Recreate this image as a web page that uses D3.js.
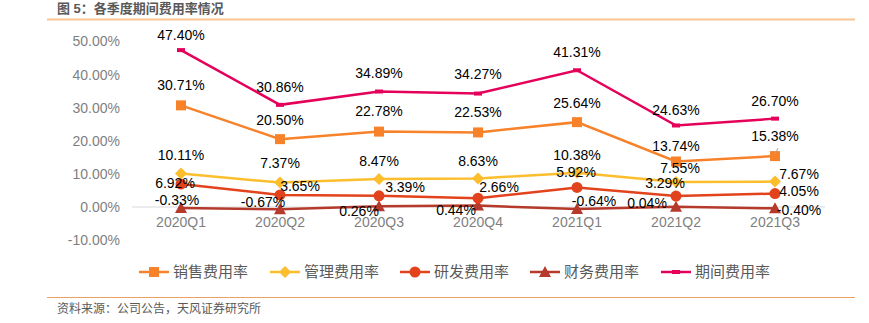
<!DOCTYPE html>
<html><head><meta charset="utf-8">
<script src="https://cdn.jsdelivr.net/npm/d3@7/dist/d3.min.js"></script>
<style>
body{margin:0;background:#fff;}
svg{display:block;font-family:"Liberation Sans","Noto Sans CJK SC",sans-serif;}
</style></head><body>
<svg id="c" width="869" height="323"></svg>
<script>
const categories = ["2020Q1","2020Q2","2020Q3","2020Q4","2021Q1","2021Q2","2021Q3"];
const sales   = [30.71, 20.50, 22.78, 22.53, 25.64, 13.74, 15.38];
const admin   = [10.11, 7.37, 8.47, 8.63, 10.38, 7.55, 7.67];
const rnd     = [6.92, 3.65, 3.39, 2.66, 5.92, 3.29, 4.05];
const finance = [-0.33, -0.67, 0.26, 0.44, -0.64, 0.04, -0.40];
const period  = [47.40, 30.86, 34.89, 34.27, 41.31, 24.63, 26.70];
const seriesNames = ["销售费用率","管理费用率","研发费用率","财务费用率","期间费用率"];
const yTicks = [-10, 0, 10, 20, 30, 40, 50];

// label offsets (layout only)
const offSales   = [[0,-20],[0,-19],[0,-20],[0,-20],[0,-19],[0,-15],[0,-20]];
const offAdmin   = [[0,-18],[0,-20],[0,-18],[0,-17],[0,-18],[4,-14],[24,-8]];
const offRnd     = [[-6,-1],[20,-9],[26,-9],[21,-11],[-1,-15],[-11,-13],[24,-2]];
const offFin     = [[-4,-8],[-17,-7],[-20,5],[-22,5],[17,-8],[-29,-4],[24,2]];
const offPeriod  = [[0,-15],[0,-18],[0,-18],[0,-19],[0,-18],[0,-15],[0,-18]];

const svg = d3.select("#c");
const x = d3.scaleBand().domain(categories).range([131.5, 824.5]);
const y = d3.scaleLinear().domain([-10, 50]).range([240.1, 41.5]);
const cx = d => x(d) + x.bandwidth()/2;

// title
svg.append("text").attr("x",57).attr("y",13).attr("font-size",13).attr("font-weight","bold")
  .attr("fill","#595959").text("图 5：各季度期间费用率情况");
svg.append("line").attr("x1",47).attr("x2",855).attr("y1",19.5).attr("y2",19.5)
  .attr("stroke","#F9C594").attr("stroke-width",2);

// footer
svg.append("line").attr("x1",47).attr("x2",855).attr("y1",297.5).attr("y2",297.5)
  .attr("stroke","#E9A262").attr("stroke-width",1);
svg.append("text").attr("x",57).attr("y",313).attr("font-size",12)
  .attr("fill","#595959").text("资料来源：公司公告，天风证券研究所");

// y axis
const yAxis = d3.axisLeft(y).tickValues(yTicks).tickSize(0).tickPadding(0)
  .tickFormat(d => d.toFixed(2) + "%");
const gy = svg.append("g").attr("transform","translate(120,0)").call(yAxis);
gy.select(".domain").remove();
gy.selectAll("text").attr("font-size",14).attr("fill","#7f7f7f").attr("font-family","Liberation Sans, sans-serif");

// zero line
svg.append("line").attr("x1",132).attr("x2",825).attr("y1",y(0)).attr("y2",y(0))
  .attr("stroke","#d9d9d9").attr("stroke-width",1);

// x labels
const xAxis = d3.axisBottom(x).tickSize(0).tickPadding(0);
const gx = svg.append("g").attr("transform",`translate(0,${y(0)+7})`).call(xAxis);
gx.select(".domain").remove();
gx.selectAll("text").attr("font-size",14).attr("fill","#7f7f7f").attr("dy","0.9em");

const series = [
  {name:seriesNames[3], data:finance, color:"#B53A2B", marker:"triangle", off:offFin},
  {name:seriesNames[2], data:rnd, color:"#E2431C", marker:"circle", off:offRnd},
  {name:seriesNames[1], data:admin, color:"#FDBE2E", marker:"diamond", off:offAdmin},
  {name:seriesNames[0], data:sales, color:"#F7822A", marker:"square", off:offSales},
  {name:seriesNames[4], data:period, color:"#E5005A", marker:"dash", off:offPeriod},
];

function drawMarker(g, type, color, px, py){
  if(type==="square") g.append("rect").attr("x",px-5).attr("y",py-5).attr("width",10).attr("height",10).attr("fill",color);
  else if(type==="diamond") g.append("path").attr("d",`M${px},${py-6}L${px+6},${py}L${px},${py+6}L${px-6},${py}Z`).attr("fill",color);
  else if(type==="circle") g.append("circle").attr("cx",px).attr("cy",py).attr("r",5.5).attr("fill",color);
  else if(type==="triangle") g.append("path").attr("d",`M${px},${py-6}L${px+6},${py+5}L${px-6},${py+5}Z`).attr("fill",color);
  else if(type==="dash") g.append("rect").attr("x",px-4).attr("y",py-2).attr("width",8).attr("height",4).attr("fill",color);
}

const line = d3.line().x((d,i)=>cx(categories[i])).y(d=>y(d));
series.forEach(s=>{
  svg.append("path").attr("d",line(s.data)).attr("fill","none").attr("stroke",s.color).attr("stroke-width",2.5);
  const g = svg.append("g");
  s.data.forEach((v,i)=>drawMarker(g, s.marker, s.color, cx(categories[i]), y(v)));
});
// leader line for last sales label
svg.append("line").attr("x1",cx(categories[6])).attr("x2",cx(categories[6])+3)
  .attr("y1",y(sales[6])-2).attr("y2",y(sales[6])-8).attr("stroke","#a6a6a6").attr("stroke-width",1);

// labels
series.forEach(s=>{
  s.data.forEach((v,i)=>{
    svg.append("text").attr("x",cx(categories[i])+s.off[i][0]).attr("y",y(v)+s.off[i][1])
      .attr("text-anchor","middle").attr("dy","0.35em").attr("font-size",14).attr("fill","#000")
      .text(v.toFixed(2)+"%");
  });
});

// legend
const legendItems = [
  {name:seriesNames[0], color:"#F7822A", marker:"square", x:139},
  {name:seriesNames[1], color:"#FDBE2E", marker:"diamond", x:270},
  {name:seriesNames[2], color:"#E2431C", marker:"circle", x:400},
  {name:seriesNames[3], color:"#B53A2B", marker:"triangle", x:530},
  {name:seriesNames[4], color:"#E5005A", marker:"dash", x:661},
];
const ly = 272;
legendItems.forEach(it=>{
  const g = svg.append("g");
  g.append("line").attr("x1",it.x).attr("x2",it.x+30).attr("y1",ly).attr("y2",ly).attr("stroke",it.color).attr("stroke-width",2.5);
  drawMarker(g, it.marker, it.color, it.x+15, ly);
  g.append("text").attr("x",it.x+34).attr("y",ly).attr("dy","0.35em").attr("font-size",15).attr("fill","#595959").text(it.name);
});
</script>
</body></html>
